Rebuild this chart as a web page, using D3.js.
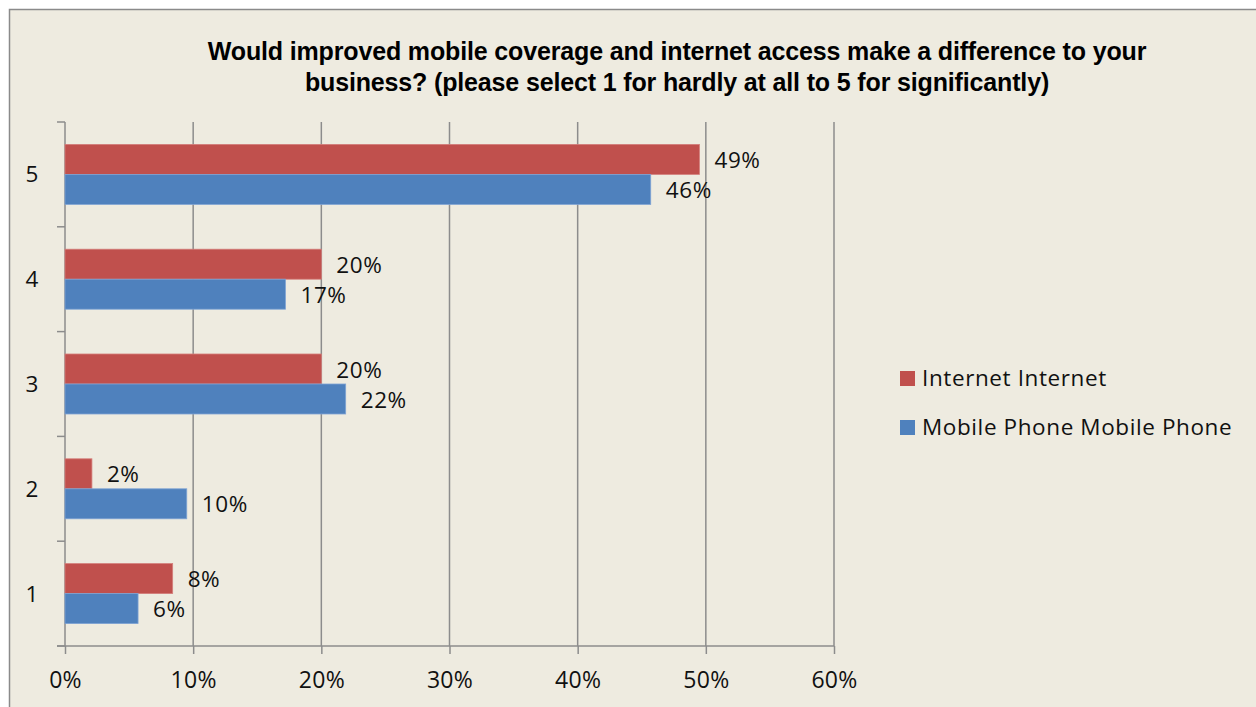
<!DOCTYPE html>
<html><head><meta charset="utf-8">
<script src="https://cdn.jsdelivr.net/npm/d3@7"></script>
<style>
html,body{margin:0;padding:0;background:#fff;}
svg{display:block;}
</style></head>
<body>
<svg id="c" width="1256" height="707"></svg>
<script>
const categories = ["5","4","3","2","1"];
const internetValues = [0.495, 0.20, 0.20, 0.021, 0.084];
const mobileValues = [0.457, 0.172, 0.219, 0.095, 0.057];
const internetLabels = ["49%","20%","20%","2%","8%"];
const mobileLabels = ["46%","17%","22%","10%","6%"];
const xTicks = [0,0.1,0.2,0.3,0.4,0.5,0.6];
const seriesNames = ["Internet Internet","Mobile Phone Mobile Phone"];
const colors = ["#C0504D","#4F81BD"];
const titleLines = ["Would improved mobile coverage and internet access make a difference to your","business? (please select 1 for hardly at all to 5 for significantly)"];

const svg = d3.select("#c");
const font = "'Open Sans', Lato, sans-serif";
// chart frame
svg.append("rect").attr("x",9.5).attr("y",9.5).attr("width",1260).attr("height",720)
  .attr("fill","#EEEBE0").attr("stroke","#8A8A8A").attr("stroke-width",1.5);

const x = d3.scaleLinear().domain([0,0.6]).range([65,834]);
const y = d3.scaleBand().domain(categories).range([122,646]).paddingInner(0).paddingOuter(0);
const bh = 30;

// gridlines
svg.append("g").selectAll("line").data(xTicks.slice(1)).join("line")
  .attr("x1",d=>x(d)).attr("x2",d=>x(d)).attr("y1",122).attr("y2",646)
  .attr("stroke","#8C8C8C").attr("stroke-width",1.5);

// x axis
const xa = svg.append("g").attr("transform","translate(0,646)")
  .call(d3.axisBottom(x).tickValues(xTicks).tickFormat(d3.format(".0%")).tickSizeInner(8).tickSizeOuter(0).tickPadding(0));
xa.select(".domain").remove();
xa.append("line").attr("x1",57).attr("x2",834).attr("stroke","#8C8C8C").attr("stroke-width",1.5);
xa.selectAll(".tick line").attr("stroke","#8C8C8C").attr("stroke-width",1.5);
xa.selectAll(".tick text").attr("dy",null).attr("y",42).attr("font-family",font).attr("font-size",23).attr("letter-spacing",0.3).attr("fill","#111");

// y axis
const ya = svg.append("g").attr("transform","translate(65,0)")
  .call(d3.axisLeft(y).tickSize(0).tickPadding(0));
ya.select(".domain").remove();
ya.append("line").attr("y1",122).attr("y2",646).attr("stroke","#8C8C8C").attr("stroke-width",1.5);
ya.selectAll(".tick text").attr("dy",null).attr("x",-33).attr("y",8).attr("text-anchor","middle")
  .attr("font-family",font).attr("font-size",22.5).attr("fill","#111");
const bounds = categories.map(c=>y(c)).concat([646]);
ya.selectAll(".bt").data(bounds).join("line")
  .attr("x1",-8).attr("x2",0).attr("y1",d=>d).attr("y2",d=>d)
  .attr("stroke","#8C8C8C").attr("stroke-width",1.5);

// bars
const series = [internetValues, mobileValues];
const labels = [internetLabels, mobileLabels];
series.forEach((vals,si)=>{
  const g = svg.append("g");
  g.selectAll("rect").data(vals).join("rect")
    .attr("x",x(0)).attr("y",(d,i)=>y(categories[i])+y.bandwidth()/2-bh+si*bh)
    .attr("width",d=>x(d)-x(0)).attr("height",bh)
    .attr("fill",colors[si]).attr("stroke",si?"#7FA3D4":"#D47E7B").attr("stroke-width",0.8);
  g.selectAll("text").data(vals).join("text")
    .attr("x",d=>x(d)+15).attr("y",(d,i)=>y(categories[i])+y.bandwidth()/2-bh/2+si*bh+8.5)
    .attr("font-family",font).attr("font-size",22.5).attr("letter-spacing",0.6).attr("fill","#111")
    .text((d,i)=>labels[si][i]);
});

// title
svg.append("g").selectAll("text").data(titleLines).join("text")
  .attr("x",677).attr("y",(d,i)=>60+i*31).attr("text-anchor","middle")
  .attr("font-family","'Liberation Sans', Arial, sans-serif").attr("font-weight","bold")
  .attr("font-size",25).attr("fill","#000").attr("letter-spacing",-0.15)
  .text(d=>d);

// legend
const lg = svg.append("g");
seriesNames.forEach((n,i)=>{
  lg.append("rect").attr("x",900).attr("y",371+i*49).attr("width",15).attr("height",15).attr("fill",colors[i]);
  lg.append("text").attr("x",922).attr("y",386+i*49).attr("font-family",font).attr("font-size",22.5)
    .attr("letter-spacing",0.6).attr("fill","#111").text(n);
});
</script>
</body></html>
